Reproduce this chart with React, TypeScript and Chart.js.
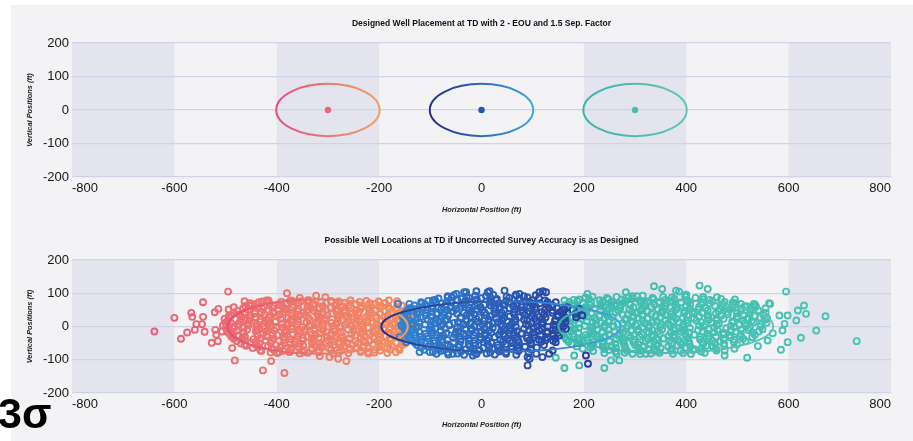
import { useEffect, useRef } from 'react';
import { Chart, registerables } from 'chart.js';

Chart.register(...registerables);

// ---------- axes ----------
const X_TICKS = [-800, -600, -400, -200, 0, 200, 400, 600, 800];
const Y_TICKS = [-200, -100, 0, 100, 200];
const BAND_STARTS = [-800, -400, 200, 600];
const BAND_ENDS = [-600, -200, 400, 800];

// ---------- titles ----------
const TOP_TITLE = 'Designed Well Placement at TD with 2 - EOU and 1.5 Sep. Factor';
const BOTTOM_TITLE = 'Possible Well Locations at TD if Uncorrected Survey Accuracy is as Designed';
const X_TITLE = 'Horizontal Position (ft)';
const Y_TITLE = 'Vertical Positions (ft)';
const SIGMA_LABEL = '3σ';

// ---------- designed wells (top chart) ----------
const WELLS = ['Left well', 'Center well', 'Right well'];
const DESIGN_X = [-300, 0, 300];
const DESIGN_Y = [0, 0, 0];
const EOU_RX = [101, 101, 101];
const EOU_RY = [78, 78, 78];

// ---------- spread ellipses (bottom chart) ----------
const SPREAD_CX = [-320, 38, 360];
const SPREAD_RX = [176, 234, 210];
const SPREAD_RY = [82, 76, 80];

// ---------- possible well locations (bottom chart) ----------
const RED_POINTS: number[][] = [
  [-639, -15], [-600, 26], [-587, -37], [-575, -18], [-567, 41], [-565, 29], [-560, -10], [-557, 7], [-546, 7],
  [-544, 73], [-544, 29], [-541, -16], [-527, -49], [-521, 43], [-520, -10], [-518, -25], [-515, -44], [-514, 53],
  [-507, -15], [-505, 3], [-502, 23], [-495, 105], [-494, 51], [-494, 31], [-486, -32], [-487, -65], [-484, 58],
  [-482, -102], [-427, -132], [-385, -140], [-411, -104], [-430, -74], [-395, -77], [-463, -54], [-380, 100],
  [-420, 78], [-435, 73], [-463, 76], [-454, 63], [-355, 86], [-372, 78], [-337, 78], [-323, 93], [-305, 88],
  [-316, -89], [-297, -92], [-280, -97], [-264, -104], [-368, 75], [-346, -77], [-375, -77], [-222, -77],
  [-428, 75], [-416, 78], [-391, 74], [-374, 77], [-353, 76], [-339, 79], [-313, 74], [-294, 77], [-279, 75], [-256, 78], [-238, 74], [-225, 77], [-201, 75], [-181, 78], [-165, 76],
  [-452, 70], [-441, 68], [-415, 71], [-396, 67], [-381, 70], [-358, 69], [-340, 72], [-327, 67], [-303, 70], [-283, 68], [-267, 71], [-245, 67], [-218, 70], [-207, 68], [-188, 71], [-164, 69],
  [-462, 61], [-449, 64], [-425, 60], [-405, 63], [-389, 62], [-367, 65], [-340, 60], [-329, 63], [-310, 61], [-286, 64], [-271, 60], [-259, 63], [-234, 61], [-217, 64], [-196, 62], [-182, 60], [-156, 63],
  [-466, 54], [-439, 57], [-428, 53], [-409, 56], [-385, 55], [-370, 58], [-358, 53], [-333, 56], [-316, 54], [-295, 57], [-281, 53], [-255, 56], [-236, 54], [-221, 57], [-198, 55], [-180, 53], [-167, 56], [-143, 54],
  [-477, 47], [-456, 50], [-442, 46], [-416, 49], [-397, 48], [-382, 51], [-359, 46], [-341, 49], [-328, 47], [-304, 50], [-284, 46], [-268, 49], [-246, 47], [-219, 50], [-208, 48], [-189, 46], [-165, 49], [-150, 47],
  [-484, 40], [-461, 43], [-443, 39], [-430, 42], [-406, 41], [-386, 44], [-370, 39], [-348, 42], [-321, 40], [-310, 43], [-291, 39], [-267, 42], [-252, 40], [-240, 43], [-215, 41], [-198, 39], [-177, 42], [-163, 40], [-137, 43],
  [-489, 33], [-473, 36], [-451, 32], [-424, 35], [-413, 34], [-394, 37], [-370, 32], [-355, 35], [-343, 33], [-318, 36], [-301, 32], [-280, 35], [-266, 33], [-240, 36], [-221, 34], [-206, 32], [-183, 35], [-165, 33], [-152, 36], [-139, 33],
  [-492, 26], [-468, 29], [-453, 25], [-441, 28], [-416, 27], [-399, 30], [-378, 25], [-364, 28], [-338, 26], [-319, 29], [-304, 25], [-281, 28], [-263, 26], [-250, 29], [-226, 27], [-206, 25], [-190, 28], [-168, 26], [-141, 29],
  [-495, 19], [-470, 22], [-453, 18], [-432, 21], [-418, 20], [-392, 23], [-373, 18], [-358, 21], [-335, 19], [-317, 22], [-304, 18], [-280, 21], [-260, 19], [-244, 22], [-222, 20], [-195, 18], [-184, 21], [-165, 19], [-141, 22], [-129, 20],
  [-498, 14], [-490, 12], [-471, 15], [-456, 11], [-433, 14], [-415, 13], [-402, 16], [-378, 11], [-358, 14], [-342, 12], [-320, 15], [-293, 11], [-282, 14], [-263, 12], [-239, 15], [-224, 13], [-212, 11], [-187, 14], [-170, 12], [-149, 15], [-135, 12],
  [-499, 5], [-475, 8], [-455, 4], [-439, 7], [-417, 6], [-390, 9], [-379, 4], [-360, 7], [-336, 5], [-321, 8], [-309, 4], [-284, 7], [-267, 5], [-246, 8], [-232, 6], [-206, 4], [-187, 7], [-172, 5], [-149, 8], [-131, 5],
  [-494, -2], [-483, 1], [-464, -3], [-440, 0], [-425, -1], [-413, 2], [-388, -3], [-371, 0], [-350, -2], [-336, 1], [-310, -3], [-291, 0], [-276, -2], [-253, 1], [-235, -1], [-222, -3], [-198, 0], [-178, -2], [-162, 1], [-140, -2], [-127, 0],
  [-498, -9], [-484, -6], [-458, -10], [-439, -7], [-424, -8], [-401, -5], [-383, -10], [-370, -7], [-346, -9], [-326, -6], [-310, -10], [-288, -7], [-261, -9], [-250, -6], [-231, -8], [-207, -10], [-192, -7], [-180, -9], [-155, -6], [-138, -9],
  [-496, -16], [-478, -13], [-465, -17], [-441, -14], [-421, -15], [-405, -12], [-383, -17], [-356, -14], [-345, -16], [-326, -13], [-302, -17], [-287, -14], [-275, -16], [-250, -13], [-233, -15], [-212, -17], [-198, -14], [-172, -16], [-153, -13], [-138, -16],
  [-493, -21], [-487, -23], [-465, -20], [-438, -24], [-427, -21], [-408, -22], [-384, -19], [-369, -24], [-357, -21], [-332, -23], [-315, -20], [-294, -24], [-280, -21], [-254, -23], [-235, -20], [-220, -22], [-197, -24], [-179, -21], [-166, -23], [-142, -20],
  [-489, -30], [-474, -27], [-462, -31], [-437, -28], [-420, -29], [-399, -26], [-385, -31], [-359, -28], [-340, -30], [-325, -27], [-302, -31], [-284, -28], [-271, -30], [-247, -27], [-227, -29], [-211, -31], [-189, -28], [-162, -30], [-151, -27], [-139, -30],
  [-484, -37], [-467, -34], [-446, -38], [-432, -35], [-406, -36], [-387, -33], [-372, -38], [-349, -35], [-331, -37], [-318, -34], [-294, -38], [-274, -35], [-258, -37], [-236, -34], [-209, -36], [-198, -38], [-179, -35], [-155, -37], [-140, -34],
  [-478, -44], [-463, -41], [-440, -45], [-422, -42], [-409, -43], [-385, -40], [-365, -45], [-349, -42], [-327, -44], [-300, -41], [-289, -45], [-270, -42], [-246, -44], [-231, -41], [-219, -43], [-194, -45], [-177, -42], [-156, -44], [-142, -41],
  [-470, -51], [-450, -48], [-434, -52], [-412, -49], [-385, -50], [-374, -47], [-355, -52], [-331, -49], [-316, -51], [-304, -48], [-279, -52], [-262, -49], [-241, -51], [-227, -48], [-201, -50], [-182, -52], [-167, -49], [-150, -51],
  [-460, -58], [-441, -55], [-417, -59], [-402, -56], [-390, -57], [-365, -54], [-348, -59], [-327, -56], [-313, -58], [-287, -55], [-268, -59], [-253, -56], [-230, -58], [-212, -55], [-199, -57], [-175, -59], [-155, -56],
  [-447, -65], [-435, -62], [-410, -66], [-393, -63], [-372, -64], [-358, -61], [-332, -66], [-313, -63], [-298, -65], [-275, -62], [-257, -66], [-244, -63], [-220, -65], [-200, -62], [-184, -64], [-162, -66],
  [-432, -72], [-406, -69], [-387, -73], [-372, -70], [-349, -71], [-331, -68], [-318, -73], [-294, -70], [-274, -72], [-258, -69], [-236, -73], [-209, -70], [-198, -72], [-179, -69], [-160, -71],
  [-412, -78], [-399, -80], [-375, -77], [-355, -81], [-339, -79], [-317, -77], [-290, -81], [-279, -78], [-260, -80], [-236, -77], [-221, -81], [-209, -78], [-184, -80], [-167, -77],
];

const BLUE_POINTS: number[][] = [
  [-163, 68], [-141, 68], [-118, 73], [-95, 78], [-66, 88], [-49, 98], [-30, 103], [-10, 106], [16, 106], [45, 108],
  [74, 98], [120, 106], [-34, 103], [12, 103], [67, 96], [113, 103], [126, 103], [100, 68], [145, 73], [168, 58],
  [191, 53], [184, 38], [197, 33], [-154, 33], [-157, 3], [-134, 8], [-160, -32], [-147, -47], [-121, -77], [-95, -77],
  [-56, -82], [-17, -87], [-11, -82], [90, -117], [94, -97], [107, -82], [139, -72], [165, -7], [185, 28], [204, -87],
  [208, -112], [132, -82], [119, -92], [90, -92], [145, -47], [152, -27],
  [-66, 91], [-54, 94], [-29, 90], [-12, 93], [9, 92], [23, 95], [49, 90], [68, 93], [83, 91], [106, 94],
  [-84, 84], [-58, 87], [-39, 83], [-24, 86], [-1, 85], [17, 88], [30, 83], [54, 86], [74, 84], [90, 87], [112, 85],
  [-104, 77], [-91, 80], [-67, 76], [-47, 79], [-31, 78], [-9, 81], [18, 76], [29, 79], [48, 77], [72, 80], [87, 76], [99, 79], [124, 78],
  [-116, 70], [-89, 73], [-78, 69], [-59, 72], [-35, 71], [-20, 74], [-8, 69], [17, 72], [34, 70], [55, 73], [69, 69], [95, 72], [114, 70], [129, 73],
  [-131, 63], [-110, 66], [-96, 62], [-70, 65], [-51, 64], [-36, 67], [-13, 62], [5, 65], [18, 63], [42, 66], [62, 62], [78, 65], [100, 63], [127, 66], [138, 64],
  [-138, 56], [-115, 59], [-97, 55], [-84, 58], [-60, 57], [-40, 60], [-24, 55], [-2, 58], [25, 56], [36, 59], [55, 55], [79, 58], [94, 56], [106, 59], [131, 57], [148, 55],
  [-144, 49], [-128, 52], [-106, 48], [-79, 51], [-68, 50], [-49, 53], [-25, 48], [-10, 51], [2, 49], [27, 52], [44, 48], [65, 51], [79, 49], [105, 52], [124, 50], [139, 48], [162, 51],
  [-148, 42], [-124, 45], [-109, 41], [-97, 44], [-72, 43], [-55, 46], [-34, 41], [-20, 44], [6, 42], [25, 45], [40, 41], [63, 44], [81, 42], [94, 45], [118, 43], [138, 41], [154, 44], [168, 42],
  [-151, 35], [-126, 38], [-109, 34], [-88, 37], [-74, 36], [-48, 39], [-29, 34], [-14, 37], [9, 35], [27, 38], [40, 34], [64, 37], [84, 35], [100, 38], [122, 36], [149, 34], [160, 37],
  [-153, 28], [-134, 31], [-119, 27], [-96, 30], [-78, 29], [-65, 32], [-41, 27], [-21, 30], [-5, 28], [17, 31], [44, 27], [55, 30], [74, 28], [98, 31], [113, 29], [125, 27], [150, 30], [163, 28],
  [-149, 21], [-125, 24], [-105, 20], [-89, 23], [-67, 22], [-40, 25], [-29, 20], [-10, 23], [14, 21], [29, 24], [41, 20], [66, 23], [83, 21], [104, 24], [118, 22], [144, 20], [162, 23],
  [-152, 14], [-141, 17], [-122, 13], [-98, 16], [-83, 15], [-71, 18], [-46, 13], [-29, 16], [-8, 14], [6, 17], [32, 13], [51, 16], [66, 14], [89, 17], [107, 15], [120, 13], [144, 16], [164, 14],
  [-150, 7], [-136, 10], [-110, 6], [-91, 9], [-76, 8], [-53, 11], [-35, 6], [-22, 9], [2, 7], [22, 10], [38, 6], [60, 9], [87, 7], [98, 10], [117, 8], [141, 6], [156, 9],
  [-154, 0], [-136, 3], [-123, -1], [-99, 2], [-79, 1], [-63, 4], [-41, -1], [-14, 2], [-3, 0], [16, 3], [40, -1], [55, 2], [67, 0], [92, 3], [109, 1], [130, -1], [144, 2], [160, 0],
  [-150, -7], [-128, -4], [-101, -8], [-90, -5], [-71, -6], [-47, -3], [-32, -8], [-20, -5], [5, -7], [22, -4], [43, -8], [57, -5], [83, -7], [102, -4], [117, -6], [140, -8],
  [-149, -14], [-134, -11], [-122, -15], [-97, -12], [-80, -13], [-59, -10], [-45, -15], [-19, -12], [0, -14], [15, -11], [38, -15], [56, -12], [69, -14], [93, -11], [113, -13], [129, -15], [145, -12],
  [-147, -21], [-130, -18], [-109, -22], [-95, -19], [-69, -20], [-50, -17], [-35, -22], [-12, -19], [6, -21], [19, -18], [43, -22], [63, -19], [79, -21], [101, -18], [128, -20], [139, -22], [150, -19],
  [-144, -28], [-129, -25], [-106, -29], [-88, -26], [-75, -27], [-51, -24], [-31, -29], [-15, -26], [7, -28], [34, -25], [45, -29], [64, -26], [88, -28], [103, -25], [115, -27], [140, -29],
  [-140, -35], [-120, -32], [-104, -36], [-82, -33], [-55, -34], [-44, -31], [-25, -36], [-1, -33], [14, -35], [26, -32], [51, -36], [68, -33], [89, -35], [103, -32], [129, -34], [144, -36],
  [-136, -42], [-117, -39], [-93, -43], [-78, -40], [-66, -41], [-41, -38], [-24, -43], [-3, -40], [11, -42], [37, -39], [56, -43], [71, -40], [94, -42], [112, -39], [125, -41], [140, -43],
  [-130, -49], [-118, -46], [-93, -50], [-76, -47], [-55, -48], [-41, -45], [-15, -50], [4, -47], [19, -49], [42, -46], [60, -50], [73, -47], [97, -49], [117, -46],
  [-126, -56], [-100, -53], [-81, -57], [-66, -54], [-43, -55], [-25, -52], [-12, -57], [12, -54], [32, -56], [48, -53], [70, -57], [97, -54], [122, -56],
  [-118, -63], [-105, -60], [-81, -64], [-61, -61], [-45, -62], [-23, -59], [4, -64], [15, -61], [34, -63], [58, -60], [73, -64], [85, -61], [108, -63],
  [-112, -70], [-85, -67], [-74, -71], [-55, -68], [-31, -69], [-16, -66], [-4, -71], [21, -68], [38, -70], [59, -67], [73, -71], [96, -68],
  [-101, -77], [-80, -74], [-66, -78], [-40, -75], [-21, -76], [-6, -73], [17, -78], [35, -75], [48, -77], [72, -74], [92, -78],
  [-88, -82], [-65, -84], [-47, -81], [-34, -85], [-10, -83], [10, -81], [26, -84], [48, -82], [68, -85],
];

const TEAL_POINTS: number[][] = [
  [595, 105], [564, 68], [532, 68], [497, 70], [514, 60], [630, 63], [634, 38], [618, 48], [615, 18], [598, 33],
  [582, 33], [672, 31], [654, -12], [624, -34], [598, -47], [588, -12], [592, 8], [585, -70], [569, -20], [559, -42],
  [540, -59], [519, -94], [494, -67], [475, -72], [475, -87], [733, -44], [426, 123], [442, 113], [380, 108], [400, 96],
  [337, 121], [353, 113], [240, -125], [162, -125], [191, -117], [181, -87], [145, -94], [253, -102], [269, -102],
  [295, -82], [321, -82], [207, 98], [282, 103], [295, 91], [315, 93], [386, 105], [399, 91], [162, 78], [191, 81],
  [562, 70], [536, 61],
  [203, 87], [217, 90], [245, 86], [264, 89], [288, 88], [304, 91], [334, 86], [355, 89], [372, 87], [398, 90], [418, 86], [433, 89], [460, 88],
  [180, 80], [210, 83], [231, 79], [248, 82], [274, 81], [294, 84], [309, 79], [336, 82], [359, 80], [377, 83], [402, 79], [433, 82], [446, 80], [468, 83], [495, 81],
  [172, 73], [187, 76], [214, 72], [237, 75], [255, 74], [280, 77], [311, 72], [324, 75], [346, 73], [373, 76], [390, 72], [404, 75], [432, 73], [451, 76], [475, 74], [491, 72],
  [167, 66], [198, 69], [211, 65], [233, 68], [260, 67], [277, 70], [291, 65], [319, 68], [338, 66], [362, 69], [378, 65], [408, 68], [429, 66], [446, 69], [472, 67], [492, 65], [507, 68], [534, 66],
  [163, 59], [187, 62], [203, 58], [233, 61], [254, 60], [271, 63], [297, 58], [317, 61], [332, 59], [359, 62], [382, 58], [400, 61], [425, 59], [456, 62], [469, 60], [491, 58], [518, 61], [535, 59],
  [160, 52], [186, 55], [206, 51], [221, 54], [248, 53], [271, 56], [289, 51], [314, 54], [345, 52], [358, 55], [380, 51], [407, 54], [424, 52], [438, 55], [466, 53], [485, 51], [509, 54], [525, 52], [555, 55],
  [158, 45], [176, 48], [201, 44], [232, 47], [245, 46], [267, 49], [294, 44], [311, 47], [325, 45], [353, 48], [372, 44], [396, 47], [412, 45], [442, 48], [463, 46], [480, 44], [506, 47], [526, 45], [541, 48],
  [157, 38], [184, 41], [201, 37], [215, 40], [243, 39], [262, 42], [286, 37], [302, 40], [332, 38], [353, 41], [370, 37], [396, 40], [416, 38], [431, 41], [458, 39], [481, 37], [499, 40], [524, 38], [555, 41],
  [159, 31], [187, 34], [206, 30], [230, 33], [246, 32], [276, 35], [297, 30], [314, 33], [340, 31], [360, 34], [375, 30], [402, 33], [425, 31], [443, 34], [468, 32], [499, 30], [512, 33], [534, 31], [551, 34],
  [157, 24], [178, 27], [195, 23], [221, 26], [241, 25], [256, 28], [283, 23], [306, 26], [324, 24], [349, 27], [380, 23], [393, 26], [415, 24], [442, 27], [459, 25], [473, 23], [501, 26], [520, 24], [544, 27], [558, 25],
  [156, 17], [183, 20], [206, 16], [224, 19], [249, 18], [280, 21], [293, 16], [315, 19], [342, 17], [359, 20], [373, 16], [401, 19], [420, 17], [444, 20], [460, 18], [490, 16], [511, 19], [528, 17], [554, 20],
  [155, 10], [168, 13], [190, 9], [217, 12], [234, 11], [248, 14], [276, 9], [295, 12], [319, 10], [335, 13], [365, 9], [386, 12], [403, 10], [429, 13], [449, 11], [464, 9], [491, 12], [514, 10], [532, 13], [557, 11],
  [156, 3], [172, 6], [202, 2], [223, 5], [240, 4], [266, 7], [286, 2], [301, 5], [328, 3], [351, 6], [369, 2], [394, 5], [425, 3], [438, 6], [460, 4], [487, 2], [504, 5], [518, 3], [546, 6],
  [155, -4], [175, -1], [190, -5], [217, -2], [240, -3], [258, 0], [283, -5], [314, -2], [327, -4], [349, -1], [376, -5], [393, -2], [407, -4], [435, -1], [454, -3], [478, -5], [494, -2], [524, -4], [545, -1],
  [157, -11], [182, -8], [213, -12], [226, -9], [248, -10], [275, -7], [292, -12], [306, -9], [334, -11], [353, -8], [377, -12], [393, -9], [423, -11], [444, -8], [461, -10], [487, -12], [507, -9], [522, -11], [549, -8],
  [158, -18], [175, -15], [189, -19], [217, -16], [236, -17], [260, -14], [276, -19], [306, -16], [327, -18], [344, -15], [370, -19], [390, -16], [405, -18], [432, -15], [455, -17], [473, -19], [498, -16], [529, -18], [542, -15],
  [160, -25], [179, -22], [203, -26], [219, -23], [249, -24], [270, -21], [287, -26], [313, -23], [333, -25], [348, -22], [375, -26], [398, -23], [416, -25], [441, -22], [472, -24], [485, -26], [507, -23], [534, -25],
  [163, -32], [180, -29], [206, -33], [226, -30], [241, -31], [268, -28], [291, -33], [309, -30], [334, -32], [365, -29], [378, -33], [400, -30], [427, -32], [444, -29], [458, -31], [486, -33], [505, -30], [529, -32],
  [166, -39], [189, -36], [207, -40], [232, -37], [263, -38], [276, -35], [298, -40], [325, -37], [342, -39], [356, -36], [384, -40], [403, -37], [427, -39], [443, -36], [473, -38], [494, -40], [511, -37],
  [170, -46], [192, -43], [219, -47], [236, -44], [250, -45], [278, -42], [297, -47], [321, -44], [337, -46], [367, -43], [388, -47], [405, -44], [431, -46], [451, -43], [466, -45], [493, -47], [516, -44],
  [176, -53], [190, -50], [218, -54], [237, -51], [261, -52], [277, -49], [307, -54], [328, -51], [345, -53], [371, -50], [391, -54], [406, -51], [433, -53], [456, -50], [474, -52], [499, -54],
  [186, -60], [216, -57], [237, -61], [254, -58], [280, -59], [300, -56], [315, -61], [342, -58], [365, -60], [383, -57], [408, -61], [439, -58], [452, -60], [474, -57],
  [198, -67], [213, -64], [240, -68], [263, -65], [281, -66], [306, -63], [337, -68], [350, -65], [372, -67], [399, -64], [416, -68], [430, -65], [458, -67],
  [218, -74], [249, -71], [262, -75], [284, -72], [311, -73], [328, -70], [342, -75], [370, -72], [389, -74], [413, -71], [429, -75], [459, -72],
  [240, -80], [264, -82], [280, -79], [310, -83], [331, -81], [348, -79], [374, -82], [394, -80], [409, -83], [436, -79],
];

// ---------- styles ----------
const FONT = "'Liberation Sans', Arial, sans-serif";
const PAGE_BG = '#f3f3f5';
const BAND_COLOR = '#e3e4ee';
const GRID_COLOR = '#d0d3e7';
const EOU_FROM = ['#e24e7c', '#262d86', '#3cb2a9'];
const EOU_TO = ['#efa05f', '#3aa8e4', '#62c4ba'];
const DOT_COLORS = ['#e2677a', '#1f56b4', '#47bdb3'];
const RING_FROM = ['#ea5c78', '#2f84d4', '#3dbcae'];
const RING_TO = ['#f28d5e', '#263a9c', '#4ac4b6'];

function xGradient(chart: any, v0: number, v1: number, c0: string, c1: string) {
  const sx = chart.scales?.x;
  if (!sx || !chart.chartArea) return c0;
  const g = chart.ctx.createLinearGradient(sx.getPixelForValue(v0), 0, sx.getPixelForValue(v1), 0);
  g.addColorStop(0, c0);
  g.addColorStop(1, c1);
  return g;
}

const bandsPlugin = {
  id: 'bands',
  beforeDraw(chart: any) {
    const { ctx, chartArea, scales } = chart;
    if (!chartArea) return;
    const sx = scales.x;
    ctx.save();
    ctx.fillStyle = BAND_COLOR;
    BAND_STARTS.forEach((s, i) => {
      const a = sx.getPixelForValue(s);
      const b = sx.getPixelForValue(BAND_ENDS[i]);
      ctx.fillRect(a, chartArea.top, b - a, chartArea.bottom - chartArea.top);
    });
    ctx.restore();
  },
};

function makeEllipsePlugin(cxs: number[], cys: number[], rxs: number[], rys: number[]) {
  return {
    id: 'ellipses',
    afterDatasetsDraw(chart: any) {
      const { ctx, scales } = chart;
      const sx = scales.x;
      const sy = scales.y;
      ctx.save();
      cxs.forEach((cx, i) => {
        const px = sx.getPixelForValue(cx);
        const py = sy.getPixelForValue(cys[i]);
        const rx = Math.abs(sx.getPixelForValue(cx + rxs[i]) - px);
        const ry = Math.abs(sy.getPixelForValue(cys[i] + rys[i]) - py);
        const g = ctx.createLinearGradient(px - rx, 0, px + rx, 0);
        g.addColorStop(0, EOU_FROM[i]);
        g.addColorStop(1, EOU_TO[i]);
        ctx.strokeStyle = g;
        ctx.lineWidth = 2;
        ctx.beginPath();
        ctx.ellipse(px, py, rx, ry, 0, 0, Math.PI * 2);
        ctx.stroke();
      });
      ctx.restore();
    },
  };
}

function baseOptions(title: string, padTop: number, padBottom: number, xTitleBottom: number) {
  const tickFont = { family: FONT, size: 13 };
  const axisTitleFont = { family: FONT, size: 7.4, weight: 'bold' as const, style: 'italic' as const };
  return {
    responsive: false,
    animation: false as const,
    events: [] as any[],
    layout: { padding: { left: 0, right: 22, top: 0, bottom: 0 } },
    plugins: {
      legend: { display: false },
      tooltip: { enabled: false },
      title: {
        display: true,
        fullSize: false,
        text: title,
        color: '#111',
        font: { family: FONT, size: 8.5, weight: 'bold' as const },
        padding: { top: padTop, bottom: padBottom },
      },
    },
    scales: {
      x: {
        type: 'linear' as const,
        min: X_TICKS[0],
        max: X_TICKS[X_TICKS.length - 1],
        afterBuildTicks: (s: any) => { s.ticks = X_TICKS.map((v) => ({ value: v })); },
        afterFit: (s: any) => { s.height = 43; },
        grid: { display: false, drawTicks: false },
        border: { display: false },
        ticks: { align: 'inner' as const, padding: 4, color: '#161616', font: tickFont, callback: (v: any) => String(v) },
        title: { display: true, text: X_TITLE, color: '#222', font: axisTitleFont, padding: { top: 0, bottom: xTitleBottom } },
      },
      y: {
        type: 'linear' as const,
        min: Y_TICKS[0],
        max: Y_TICKS[Y_TICKS.length - 1],
        afterBuildTicks: (s: any) => { s.ticks = Y_TICKS.map((v) => ({ value: v })); },
        afterFit: (s: any) => { s.width = 72; },
        grid: { color: GRID_COLOR, lineWidth: 1.3, drawTicks: false },
        border: { display: false },
        ticks: { padding: 3, color: '#161616', font: tickFont, callback: (v: any) => String(v) },
        title: { display: true, text: Y_TITLE, color: '#222', font: axisTitleFont, padding: { top: 25.8, bottom: 0 } },
      },
    },
  };
}

function ringDataset(label: string, pts: number[][], idx: number) {
  const xs = pts.map((p) => p[0]);
  const lo = Math.min(...xs);
  const hi = Math.max(...xs);
  return {
    label,
    data: pts.map((p) => ({ x: p[0], y: p[1] })),
    pointStyle: 'circle',
    pointRadius: 3,
    borderWidth: 1.9,
    backgroundColor: 'rgba(0,0,0,0)',
    borderColor: (c: any) => xGradient(c.chart, lo, hi, RING_FROM[idx], RING_TO[idx]),
  };
}

export default function App() {
  const topRef = useRef<HTMLCanvasElement>(null);
  const botRef = useRef<HTMLCanvasElement>(null);

  useEffect(() => {
    const top = new Chart(topRef.current!, {
      type: 'scatter',
      data: {
        datasets: WELLS.map((w, i) => ({
          label: w,
          data: [{ x: DESIGN_X[i], y: DESIGN_Y[i] }],
          pointRadius: 3.2,
          borderWidth: 0,
          backgroundColor: DOT_COLORS[i],
        })),
      },
      options: baseOptions(TOP_TITLE, 18.9, 13.9, 5.6) as any,
      plugins: [bandsPlugin, makeEllipsePlugin(DESIGN_X, DESIGN_Y, EOU_RX, EOU_RY)],
    });
    const bottom = new Chart(botRef.current!, {
      type: 'scatter',
      data: {
        datasets: [
          ringDataset(WELLS[1], BLUE_POINTS, 1),
          ringDataset(WELLS[0], RED_POINTS, 0),
          ringDataset(WELLS[2], TEAL_POINTS, 2),
        ] as any,
      },
      options: baseOptions(BOTTOM_TITLE, 15.9, 13.9, 6.5) as any,
      plugins: [bandsPlugin, makeEllipsePlugin(SPREAD_CX, DESIGN_Y, SPREAD_RX, SPREAD_RY)],
    });
    return () => {
      top.destroy();
      bottom.destroy();
    };
  }, []);

  return (
    <div style={{ position: 'absolute', left: 0, top: 0, width: 913, height: 441, background: '#ffffff', overflow: 'hidden' }}>
      <div style={{ position: 'absolute', left: 11, top: 5, right: 0, bottom: 0, background: PAGE_BG }} />
      <canvas ref={topRef} width={913} height={220} style={{ position: 'absolute', left: 0, top: 0, width: 913, height: 220 }} />
      <canvas ref={botRef} width={913} height={216} style={{ position: 'absolute', left: 0, top: 220, width: 913, height: 216 }} />
      <div
        style={{
          position: 'absolute',
          left: -2,
          top: 392,
          fontFamily: "'Liberation Sans', Arial, sans-serif",
          fontWeight: 'bold',
          fontSize: 43,
          lineHeight: '43px',
          color: '#000',
          whiteSpace: 'nowrap',
        }}
      >
        {SIGMA_LABEL}
      </div>
    </div>
  );
}
